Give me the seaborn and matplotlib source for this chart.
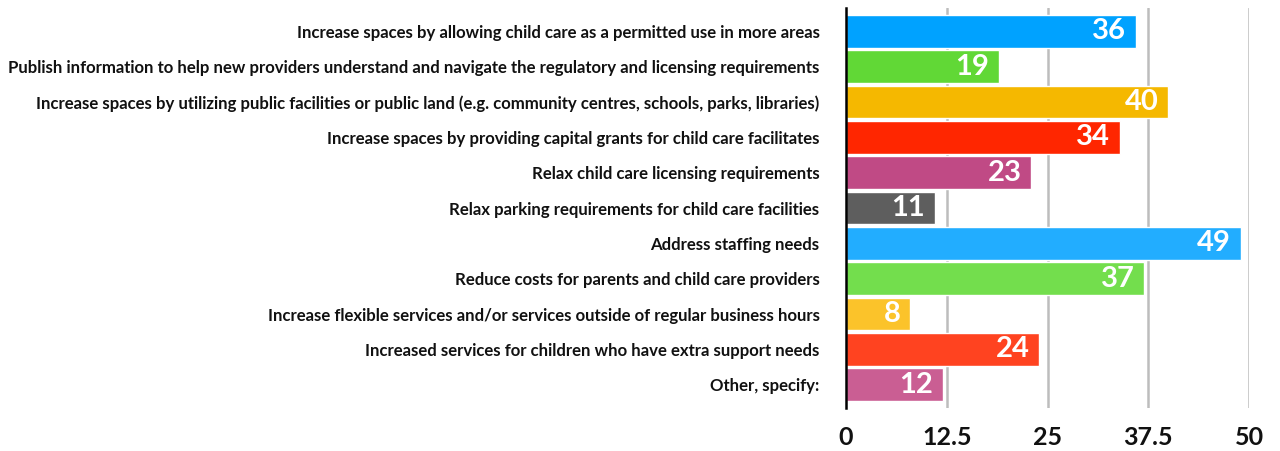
import matplotlib
matplotlib.use("Agg")
import matplotlib.pyplot as plt
import seaborn as sns
import pandas as pd

categories = [
    "Increase spaces by allowing child care as a permitted use in more areas",
    "Publish information to help new providers understand and navigate the regulatory and licensing requirements",
    "Increase spaces by utilizing public facilities or public land (e.g. community centres, schools, parks, libraries)",
    "Increase spaces by providing capital grants for child care facilitates",
    "Relax child care licensing requirements",
    "Relax parking requirements for child care facilities",
    "Address staffing needs",
    "Reduce costs for parents and child care providers",
    "Increase flexible services and/or services outside of regular business hours",
    "Increased services for children who have extra support needs",
    "Other, specify:",
]
values = [36, 19, 40, 34, 23, 11, 49, 37, 8, 24, 12]
bar_colors = [
    "#00A2FF", "#61D836", "#F5B800", "#FF2600", "#C04A85", "#5E5E5E",
    "#22ADFF", "#73DE4D", "#FBC32A", "#FF4320", "#CA5E93",
]
x_ticks = [0, 12.5, 25, 37.5, 50]
x_tick_labels = ["0", "12.5", "25", "37.5", "50"]

sns.set_theme(style="white")
plt.rcParams["font.family"] = ["Lato", "DejaVu Sans"]

df = pd.DataFrame({"category": categories, "value": values})

fig = plt.figure(figsize=(12.8, 4.51), dpi=100)
ax = fig.add_axes([846 / 1280, 1 - 408 / 451, (1249 - 846) / 1280, 400 / 451])

sns.barplot(
    data=df, x="value", y="category", hue="category",
    palette=bar_colors, order=categories, hue_order=categories,
    width=0.92, legend=False, saturation=1, ax=ax, zorder=3,
)

ax.set_xlim(0, 50)
ax.set_ylim(10.66, -0.66)
ax.set_xticks(x_ticks)
ax.set_xticklabels(x_tick_labels, fontsize=18, fontweight="bold", color="#111111")
ax.tick_params(axis="x", length=0, pad=13)
ax.tick_params(axis="y", length=0, pad=19)
for lbl in ax.get_yticklabels():
    lbl.set_fontsize(12.05)
    lbl.set_fontweight("bold")
    lbl.set_color("#111111")
ax.set_xlabel("")
ax.set_ylabel("")

for gx in x_ticks[1:]:
    ax.axvline(gx, color="#BDBDBD", lw=1.8, zorder=1)

for s in ["top", "right", "bottom"]:
    ax.spines[s].set_visible(False)
ax.spines["left"].set_color("black")
ax.spines["left"].set_linewidth(1.8)
ax.spines["left"].set_zorder(5)

for i, v in enumerate(values):
    ax.annotate(
        f"{v}", xy=(v, i), xytext=(-7, 0), textcoords="offset points",
        ha="right", va="center", color="white", fontsize=21,
        fontweight="bold", zorder=6,
    )

fig.savefig("out.png", dpi=100, facecolor="white")
